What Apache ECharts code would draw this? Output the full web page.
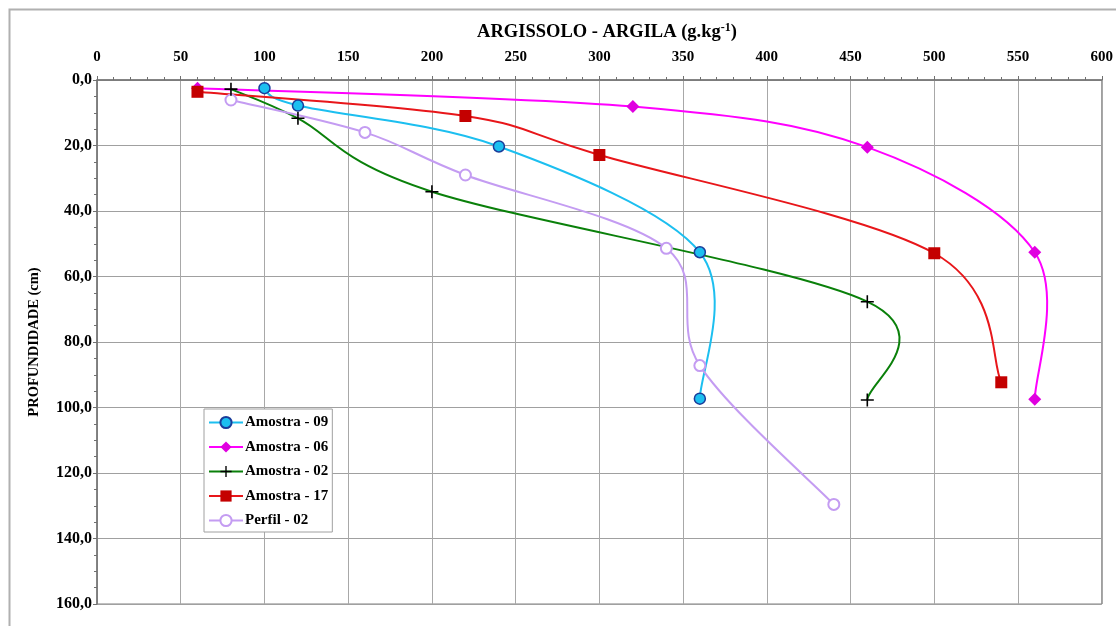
<!DOCTYPE html>
<html>
<head>
<meta charset="utf-8">
<script src="https://cdn.jsdelivr.net/npm/echarts@6/dist/echarts.min.js"></script>
<style>html,body{margin:0;padding:0;background:#fff}#c{width:1116px;height:626px}</style>
</head>
<body>
<div id="c"></div>
<script>
// Data: [argila g/kg, profundidade cm]
const amostra09 = [[100, 2.5], [120, 7.8], [240, 20.3], [360, 52.6], [360, 97.3]];
const amostra06 = [[60, 2.5], [320, 8.1], [460, 20.5], [560, 52.6], [560, 97.5]];
const amostra02 = [[80, 2.8], [120, 11.7], [200, 34.1], [460, 67.7], [460, 97.7]];
const amostra17 = [[60, 3.6], [220, 11.0], [300, 22.9], [500, 52.9], [540, 92.3]];
const perfil02 = [[80, 6.1], [160, 16.0], [220, 29.0], [340, 51.4], [360, 87.2], [440, 129.6]];
const seriesNames = ['Amostra - 09', 'Amostra - 06', 'Amostra - 02', 'Amostra - 17', 'Perfil - 02'];
const xTicks = { min: 0, max: 600, step: 50 };
const yTicks = { min: 0, max: 160, step: 20 };

const serif = 'Liberation Serif';
const plus = 'path://M5.7 0h1.6v5.7h5.7v1.6h-5.7v5.7h-1.6v-5.7h-5.7v-1.6h5.7z';

const defs = [
  { name: seriesNames[0], data: amostra09, line: '#1cbff0', symbol: 'circle', size: 11, item: { color: '#1cbff0', borderColor: '#1a3c9a', borderWidth: 1.5 }, z: 6 },
  { name: seriesNames[1], data: amostra06, line: '#ff00ff', symbol: 'diamond', size: 13, item: { color: '#e000e0' }, z: 3 },
  { name: seriesNames[2], data: amostra02, line: '#0a800a', symbol: plus, size: 13, item: { color: '#000' }, z: 5 },
  { name: seriesNames[3], data: amostra17, line: '#e8161a', symbol: 'rect', size: 12, item: { color: '#c40000' }, z: 4 },
  { name: seriesNames[4], data: perfil02, line: '#c49cf2', symbol: 'emptyCircle', size: 11, item: { color: '#c49cf2', borderWidth: 1.5 }, z: 2 }
];

// Smooth curve (Catmull-Rom style, like spreadsheet smoothing), computed in pixel space
function curveSeries(d) {
  return {
    type: 'custom', name: d.name + ' curve', data: d.data, silent: true, z: 1,
    encode: { x: 0, y: 1 },
    renderItem: function (params, api) {
      if (params.dataIndex !== 0) return null;
      const p = d.data.map(v => api.coord(v));
      const children = [];
      for (let i = 0; i < p.length - 1; i++) {
        const p0 = p[Math.max(i - 1, 0)], p1 = p[i], p2 = p[i + 1], p3 = p[Math.min(i + 2, p.length - 1)];
        children.push({
          type: 'bezierCurve',
          shape: {
            x1: p1[0], y1: p1[1], x2: p2[0], y2: p2[1],
            cpx1: p1[0] + (p2[0] - p0[0]) / 6, cpy1: p1[1] + (p2[1] - p0[1]) / 6,
            cpx2: p2[0] - (p3[0] - p1[0]) / 6, cpy2: p2[1] - (p3[1] - p1[1]) / 6
          },
          style: { stroke: d.line, lineWidth: 2, fill: null }
        });
      }
      return { type: 'group', children: children };
    }
  };
}

const series = [];
defs.forEach(d => series.push(curveSeries(d)));
defs.forEach(d => series.push({
  name: d.name, type: 'line', data: d.data,
  symbol: d.symbol, symbolSize: d.size, showSymbol: true,
  lineStyle: { color: d.line, width: 2, opacity: 0 },
  itemStyle: d.item, z: d.z + 10
}));

const chart = echarts.init(document.getElementById('c'));
chart.setOption({
  animation: false,
  backgroundColor: '#fff',
  graphic: [{
    type: 'rect', left: 7, top: 7, z: -10,
    shape: { width: 1200, height: 700 },
    style: { fill: 'none', stroke: '#b0b0b0', lineWidth: 2 }
  }],
  title: {
    text: '{a|ARGISSOLO - ARGILA (g.kg}{b|-1}{a|)}',
    left: 602, top: 17, textAlign: 'center',
    textStyle: {
      rich: {
        a: { fontFamily: serif, fontSize: 18.5, fontWeight: 'bold', color: '#000' },
        b: { fontFamily: serif, fontSize: 12, fontWeight: 'bold', color: '#000', padding: [0, 0, 9, 0] }
      }
    }
  },
  grid: { left: 97, right: 8, top: 80, bottom: 22, show: true, borderColor: '#808080', borderWidth: 1 },
  legend: {
    orient: 'vertical', left: 204, top: 409,
    data: seriesNames.map(n => ({ name: n, lineStyle: { opacity: 1 } })),
    itemWidth: 34, itemHeight: 14, itemGap: 9.5,
    padding: [6, 4, 4, 4],
    borderColor: '#a0a0a0', borderWidth: 1, backgroundColor: '#fff',
    textStyle: { fontFamily: serif, fontSize: 15, fontWeight: 'bold', color: '#000', padding: [0, 0, 0, -3] }
  },
  xAxis: {
    type: 'value', position: 'top', min: xTicks.min, max: xTicks.max, interval: xTicks.step,
    axisLine: { show: true, lineStyle: { color: '#707070', width: 1.5 } },
    axisTick: { show: true, inside: false, length: 4, lineStyle: { color: '#707070' } },
    minorTick: { show: true, splitNumber: 5, length: 3, lineStyle: { color: '#707070' } },
    splitLine: { show: true, lineStyle: { color: '#a8a8a8', width: 1 } },
    axisLabel: { fontFamily: serif, fontSize: 15, fontWeight: 'bold', color: '#000', margin: 15 }
  },
  yAxis: {
    type: 'value', inverse: true, min: yTicks.min, max: yTicks.max, interval: yTicks.step,
    name: 'PROFUNDIDADE (cm)', nameLocation: 'middle', nameRotate: 90, nameGap: 55,
    nameTextStyle: { fontFamily: serif, fontSize: 14.5, fontWeight: 'bold', color: '#000' },
    axisLine: { show: true, lineStyle: { color: '#707070', width: 1.5 } },
    axisTick: { show: true, inside: false, length: 4, lineStyle: { color: '#707070' } },
    minorTick: { show: true, splitNumber: 4, length: 3, lineStyle: { color: '#707070' } },
    splitLine: { show: true, lineStyle: { color: '#a0a0a0', width: 1 } },
    axisLabel: {
      fontFamily: serif, fontSize: 16, fontWeight: 'bold', color: '#000', margin: 5,
      formatter: v => v.toFixed(1).replace('.', ',')
    }
  },
  series: series
});
</script>
</body>
</html>
